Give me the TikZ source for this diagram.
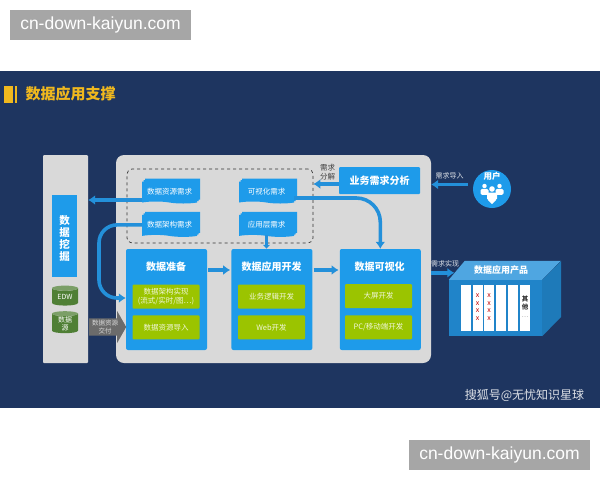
\documentclass[tikz,border=0pt]{standalone}
\usepackage{xcolor}
\usepackage{fontspec}
\setmainfont{Noto Sans CJK SC}
\newfontfamily\markfont{Liberation Sans}
\usetikzlibrary{calc}
\usetikzlibrary{positioning}
\usetikzlibrary{arrows.meta}
\usetikzlibrary{shapes}
\usetikzlibrary{shadows}

\definecolor{navy}{HTML}{1E3560}
\definecolor{panelgray}{HTML}{D9D9D9}
\definecolor{boxblue}{HTML}{1E9BEA}
\definecolor{flowblue}{HTML}{2390DA}
\definecolor{leafgreen}{HTML}{9BC400}
\definecolor{dbgreen}{HTML}{4F7F35}
\definecolor{gold}{HTML}{F0B81E}

\newcommand{\fs}[1]{\fontsize{#1}{#1}\selectfont}

\begin{document}
\begin{tikzpicture}[x=1pt,y=-1pt,
      mark style/.style={fill=black!35,text=white,minimum width=181pt,minimum height=30pt,
        inner sep=0pt,font=\fs{17.5}\markfont},
      panel style/.style={fill=panelgray,inner sep=0pt},
      phase style/.style={fill=boxblue,rounded corners=2pt,minimum width=81pt,minimum height=101pt,inner sep=0pt},
      phase title/.style={text=white,font=\fs{10}\bfseries,inner sep=0pt},
      leaf style/.style={fill=leafgreen,rounded corners=1pt,text=white!85!leafgreen,minimum width=67pt,minimum height=24pt,
        inner sep=0pt,align=center,font=\fs{7.5}},
      doc style/.style={shape=tape,tape bend top=none,tape bend bottom=out and in,tape bend height=2pt,
        fill=boxblue,text=white,minimum width=55pt,minimum height=22pt,inner sep=0pt,font=\fs{7.5},
        double copy shadow={shadow xshift=1.5pt,shadow yshift=1.5pt,fill=boxblue,draw=none}},
      db style/.style={cylinder,shape border rotate=90,aspect=0.35,cylinder uses custom fill,
        cylinder body fill=dbgreen,cylinder end fill=dbgreen!75!white,text=white,minimum width=26pt,
        minimum height=20pt,inner sep=0pt,align=center,font=\fs{7}},
      flow/.style={draw=flowblue,line width=3.6pt,-{Latex[length=7pt,width=10pt]}},
      note style/.style={text=white!85!navy,inner sep=0pt,align=center,font=\fs{7}},
      col style/.style={fill=white,minimum width=10pt,minimum height=46pt,inner sep=0pt}
      ]
      \useasboundingbox (0,0) rectangle (600,480);
      \fill[navy] (0,71) rectangle (600,408);

      \node[mark style] (marktop) at (100.5,25) {cn-down-kaiyun.com};
      \node[mark style] (markbot) at (499.5,455) {cn-down-kaiyun.com};

      % title
      \node[fill=gold,minimum width=9pt,minimum height=17pt,inner sep=0pt] (ticon) at (8.5,94.5) {};
      \node[fill=gold,minimum width=1.5pt,minimum height=17pt,inner sep=0pt,right=2pt of ticon] (tbar) {};
      \node[text=gold,font=\fs{15}\bfseries,inner sep=0pt] (title) at (70.5,94) {数据应用支撑};
      \node[text=white!85!navy,font=\fs{12},inner sep=0pt] (source) at (524.5,395) {搜狐号@无忧知识星球};

      % panels
      \node[panel style,rounded corners=1pt,minimum width=45pt,minimum height=208pt] (leftpanel) at (65.5,259) {};
      \node[panel style,rounded corners=8pt,minimum width=315pt,minimum height=208pt] (panel) at (273.5,259) {};
      \node[draw=black!80,line width=0.7pt,dashed,rounded corners=5pt,minimum width=186pt,minimum height=74pt,inner sep=0pt] (demand) at (220,206) {};

      % left column
      \node[fill=boxblue,minimum width=25pt,minimum height=82pt,inner sep=0pt] (mining) at (64.5,236) {};
      \node[text=white,inner sep=0pt,align=center,font=\fs{10.5}\bfseries] (miningtext) at (64.5,239) {数\\[1.5pt]据\\[1.5pt]挖\\[1.5pt]掘};
      \node[db style] (edw) at (65,297) {EDW};
      \node[db style] (dbsrc) at (65,323.5) {数据\\[1pt]源};

      % phases
      \node[phase style] (prep) at (166.5,299.5) {};
      \node[phase style,right=24pt of prep] (appdev) {};
      \node[phase style,right=27pt of appdev] (visual) {};
      \node[phase title] (preptitle) at (166,267) {数据准备};
      \node[phase title] (apptitle) at (271.5,267) {数据应用开发};
      \node[phase title] (vistitle) at (379.5,267) {数据可视化};

      \node[leaf style] (prep1) at (166,296.5) {数据架构实现\\[2pt](流式/实时/图…)};
      \node[leaf style,below=6.5pt of prep1] (prep2) {数据资源导入};
      \node[leaf style] (app1) at (271.5,296.5) {业务逻辑开发};
      \node[leaf style,below=6.5pt of app1] (app2) {Web开发};
      \node[leaf style] (vis1) at (378.5,296) {大屏开发};
      \node[leaf style,below=7pt of vis1] (vis2) {PC/移动端开发};

      % demands
      \node[doc style] (srcreq) at (169.5,191.5) {数据资源需求};
      \node[doc style,below=13pt of srcreq] (archreq) {数据架构需求};
      \node[doc style] (vizreq) at (266.5,191.5) {可视化需求};
      \node[doc style,below=13pt of vizreq] (appreq) {应用层需求};
      \node[fill=boxblue,rounded corners=1pt,text=white,minimum width=81pt,minimum height=27pt,inner sep=0pt,
        font=\fs{10}\bfseries] (biz) at (379.5,180.5) {业务需求分析};
      \node[note style,text=black!75,font=\fs{7.5}] (split) at (327.5,172) {需求\\[1pt]分解};

      % user
      \node[circle,fill=boxblue,minimum size=38pt,inner sep=0pt] (user) at (492,189) {};
      \node[text=white,font=\fs{8.5}\bfseries,inner sep=0pt] (usertext) at (492,176) {用户};
      \foreach \dx/\hy/\sc in {-7.5/186/0.8,7.5/186/0.8,0/189/1} {
        \fill[white] (492+\dx,\hy) circle (2.8pt*\sc);
        \fill[white,rounded corners=1.5pt] (492+\dx-5*\sc,\hy+3.6*\sc) rectangle (492+\dx+5*\sc,\hy+11*\sc);
      }
      \fill[white] (488,200) -- (496,200) -- (492,204) -- cycle;
      \node[note style] (inlabel) at (449.5,176) {需求导入};
      \node[note style] (outlabel) at (445,264) {需求实现};

      % product cube
      \node[fill=flowblue!92!black,minimum width=93pt,minimum height=56pt,inner sep=0pt] (front) at (495.5,308) {};
      \fill[flowblue!80!white] (front.north west) -- ++(16,-19) -- ++(96,0) -- (front.north east) -- cycle;
      \fill[flowblue!85!black] (front.north east) -- ++(19,-19) -- ++(0,56) -- (front.south east) -- cycle;
      \coordinate (cubeedge) at ($(front.north west)+(5.5,-7)$);
      \node[text=white,font=\fs{9}\bfseries,inner sep=0pt] (product) at (501,270) {数据应用产品};
      \foreach \i/\x in {1/465.5,2/477.5,3/489,4/501,5/513,6/525}
        \node[col style] (col\i) at (\x,308) {};
      \foreach \x in {477.5,489}
        \foreach \yy in {296,304,311,319}
          \node[text=red!75!black,inner sep=0pt,font=\fs{7}] at (\x,\yy) {x};
      \node[inner sep=0pt,align=center,font=\fs{6.5}\bfseries,text=black!80] (other) at (525,303) {其\\[2pt]他};
      \node[inner sep=0pt,font=\fs{6},text=black!60] (dots) at (525,317) {…};

      % delivery arrow
      \node[single arrow,anchor=west,fill=black!58,minimum height=37pt,minimum width=32pt,
        single arrow tip angle=121,single arrow head indent=0pt,inner sep=1.5pt,text=white!85!black,
        align=center,font=\fs{6.5}] (deliver) at (89,327) {数据资源\\[1pt]交付};

      \coordinate (bendleft) at (99,298);

      \draw[flow] ([yshift=-8.5pt]srcreq.west) -- ([yshift=-8.5pt]srcreq.west -| leftpanel.east);
      \draw[flow,rounded corners=18pt] (archreq.west) -| (bendleft) -- (bendleft -| prep.west);
      \draw[flow,rounded corners=24pt] ([yshift=-6.5pt]vizreq.east) -| (visual.north);
      \draw[flow] ([yshift=-3.5pt]biz.west) -- ([yshift=-3.5pt]biz.west -| demand.east);
      \draw[flow,-{Latex[length=4pt,width=8pt]}] (appreq.south) -- (appreq.south |- appdev.north);
      \draw[flow,shorten <=1pt,shorten >=1pt] ([yshift=29.5pt]prep.east) -- ([yshift=29.5pt]appdev.west);
      \draw[flow,shorten <=1pt,shorten >=1pt] ([yshift=29.5pt]appdev.east) -- ([yshift=29.5pt]visual.west);
      \draw[flow,shorten <=5pt] ([yshift=4.5pt]user.west) -- ([yshift=4.5pt]user.west -| panel.east);
      \draw[flow] (panel.east |- cubeedge) -- (cubeedge);
    \end{tikzpicture}
\end{document}
